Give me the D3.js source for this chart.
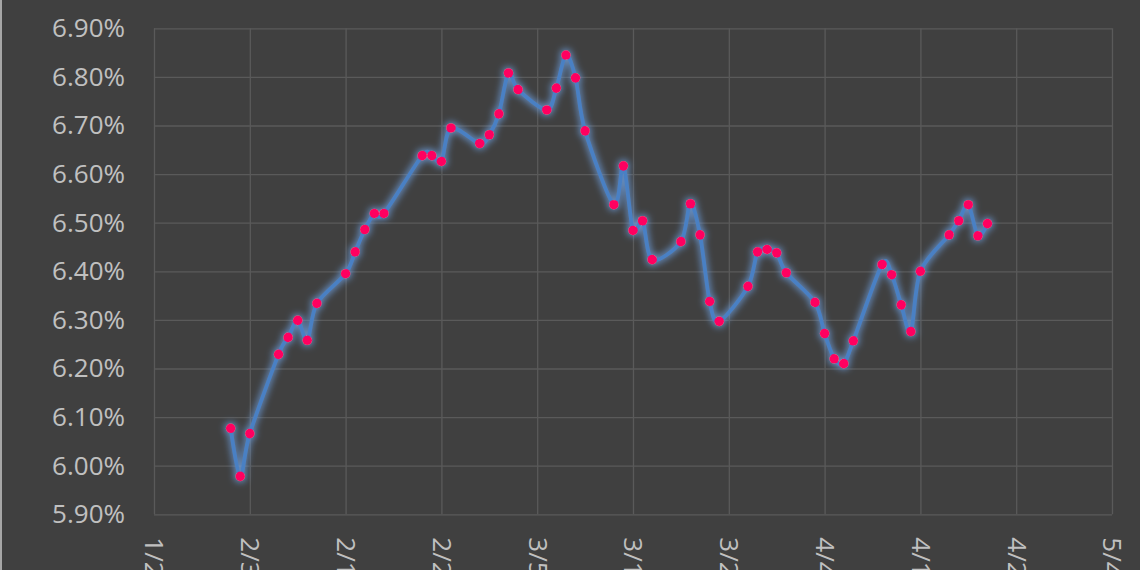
<!DOCTYPE html>
<html>
<head>
<meta charset="utf-8">
<script src="https://cdn.jsdelivr.net/npm/d3@7"></script>
<style>
html,body{margin:0;padding:0;background:#404040;overflow:hidden;}
svg{display:block;}
</style>
</head>
<body>
<svg id="chart" width="1140" height="570"></svg>
<script>
// ---- data ----
const dates = [
 "2023-02-01","2023-02-02","2023-02-03","2023-02-06","2023-02-07","2023-02-08","2023-02-09","2023-02-10",
 "2023-02-13","2023-02-14","2023-02-15","2023-02-16","2023-02-17","2023-02-21","2023-02-22","2023-02-23","2023-02-24",
 "2023-02-27","2023-02-28","2023-03-01","2023-03-02","2023-03-03","2023-03-06","2023-03-07","2023-03-08","2023-03-09","2023-03-10",
 "2023-03-13","2023-03-14","2023-03-15","2023-03-16","2023-03-17","2023-03-20","2023-03-21","2023-03-22","2023-03-23","2023-03-24",
 "2023-03-27","2023-03-28","2023-03-29","2023-03-30","2023-03-31","2023-04-03","2023-04-04","2023-04-05","2023-04-06","2023-04-07",
 "2023-04-10","2023-04-11","2023-04-12","2023-04-13","2023-04-14","2023-04-17","2023-04-18","2023-04-19","2023-04-20","2023-04-21"
];
const rates = [
 6.077,5.978,6.066,6.229,6.264,6.299,6.258,6.334,
 6.395,6.440,6.486,6.519,6.519,6.638,6.638,6.626,6.695,
 6.663,6.681,6.724,6.808,6.774,6.732,6.777,6.845,6.798,6.689,
 6.537,6.617,6.484,6.504,6.424,6.461,6.539,6.475,6.338,6.297,
 6.369,6.440,6.445,6.438,6.397,6.336,6.272,6.220,6.210,6.257,
 6.414,6.393,6.331,6.276,6.400,6.475,6.504,6.537,6.473,6.498
];
const xTickDates = ["2023-01-24","2023-02-03","2023-02-13","2023-02-23","2023-03-05","2023-03-15","2023-03-25","2023-04-04","2023-04-14","2023-04-24","2023-05-04"];
const yTicks = [5.9,6.0,6.1,6.2,6.3,6.4,6.5,6.6,6.7,6.8,6.9];

(function(){
const parse = d3.timeParse("%Y-%m-%d");
const data = dates.map((d,i)=>({date:parse(d), v:rates[i]}));
const xTicks = xTickDates.map(parse);

const svg = d3.select("#chart");
const pL = 154, pR = 1112, pT = 28.3, pB = 514.3;

const x = d3.scaleTime().domain([xTicks[0], xTicks[xTicks.length-1]]).range([pL, pR]);
const y = d3.scaleLinear().domain([5.9, 6.9]).range([pB, pT]);

svg.append("rect").attr("width",1140).attr("height",570).attr("fill","#404040");
svg.append("line").attr("x1",1).attr("x2",1).attr("y1",0).attr("y2",570)
  .attr("stroke","#a6a6a6").attr("stroke-width",2);

const defs = svg.append("defs");
const f = defs.append("filter").attr("id","glow")
  .attr("filterUnits","userSpaceOnUse").attr("x",0).attr("y",0).attr("width",1140).attr("height",570);
f.append("feMorphology").attr("in","SourceAlpha").attr("operator","dilate").attr("radius",0.8).attr("result","d");
f.append("feGaussianBlur").attr("in","d").attr("stdDeviation",3.8).attr("result","b");
f.append("feFlood").attr("flood-color","#6d9fe0").attr("flood-opacity",0.85).attr("result","c");
f.append("feComposite").attr("in","c").attr("in2","b").attr("operator","in").attr("result","g");
const m = f.append("feMerge");
m.append("feMergeNode").attr("in","g");
m.append("feMergeNode").attr("in","SourceGraphic");

const yGrid = svg.append("g").attr("transform",`translate(${pL},0)`)
  .call(d3.axisLeft(y).tickValues(yTicks).tickSize(-(pR-pL)).tickFormat(""));
yGrid.select(".domain").remove();
yGrid.selectAll("line").attr("stroke","#5a5a5a").attr("stroke-width",1.3);

const xGrid = svg.append("g").attr("transform",`translate(0,${pB})`)
  .call(d3.axisBottom(x).tickValues(xTicks).tickSize(-(pB-pT)).tickFormat(""));
xGrid.select(".domain").remove();
xGrid.selectAll("line").attr("stroke","#5a5a5a").attr("stroke-width",1.3);

const yAxis = svg.append("g").attr("transform",`translate(${pL},0)`)
  .call(d3.axisLeft(y).tickValues(yTicks).tickSize(0).tickPadding(29).tickFormat(d=>d.toFixed(2)+"%"));
yAxis.select(".domain").remove();
yAxis.selectAll("text").attr("fill","#c0c0c0").style("font-family","'Open Sans', sans-serif").style("font-size","26px");

const xAxis = svg.append("g").attr("transform",`translate(0,${pB})`)
  .call(d3.axisBottom(x).tickValues(xTicks).tickSize(0).tickFormat(d3.timeFormat("%-m/%-d")));
xAxis.select(".domain").remove();
xAxis.selectAll("text")
  .attr("fill","#c0c0c0").style("font-family","'Open Sans', sans-serif").style("font-size","26px")
  .attr("text-anchor","start").attr("dy","0.35em")
  .attr("transform","translate(0,23) rotate(90)").attr("y",0).attr("x",0);

const g = svg.append("g").attr("filter","url(#glow)");
const line = d3.line().x(d=>x(d.date)).y(d=>y(d.v)).curve(d3.curveCardinal.tension(0.1));
g.append("path").datum(data).attr("d",line).attr("fill","none")
  .attr("stroke","#4a80c4").attr("stroke-width",3.8).attr("stroke-linejoin","round");
g.selectAll("circle").data(data).join("circle")
  .attr("cx",d=>x(d.date)).attr("cy",d=>y(d.v)).attr("r",4.8).attr("fill","#ff0560");
})();
</script>
</body>
</html>
